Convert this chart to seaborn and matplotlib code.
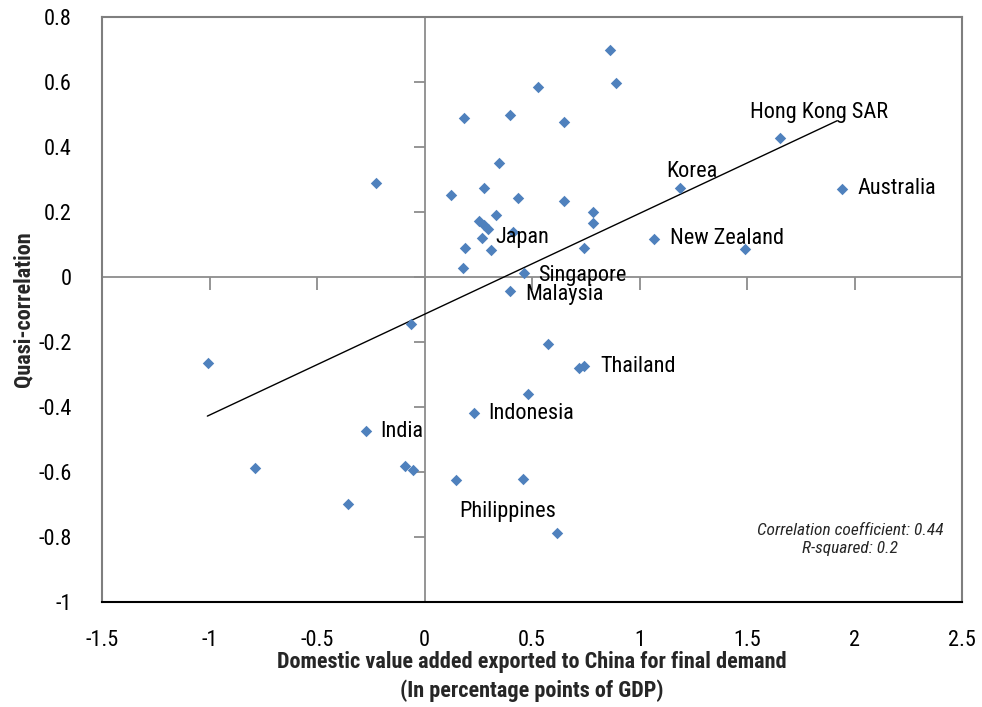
import numpy as np
import pandas as pd
import seaborn as sns
import matplotlib
matplotlib.use("Agg")
import matplotlib.pyplot as plt
from matplotlib import font_manager as fm
from matplotlib.ticker import FixedLocator, FuncFormatter

# ---------------- data ----------------
x_vals = [0.861, 0.889, 0.527, 0.182, 0.399, 0.649, 0.347, -0.224, 0.123, 0.278,
          0.435, 0.649, 0.331, 0.785, 0.782, 0.253, 0.277, 0.295, 0.266, 0.410,
          0.188, 0.311, 0.742, 1.069, 1.491, 1.654, 1.190, 1.942, 0.179, 0.461,
          0.399, -0.064, 0.574, 0.720, 0.743, 0.483, 0.229, -0.271, -0.089, -0.052,
          0.145, 0.460, -0.354, 0.616, -1.007, -0.790]
y_vals = [0.699, 0.596, 0.586, 0.488, 0.499, 0.478, 0.351, 0.289, 0.251, 0.273,
          0.243, 0.234, 0.192, 0.200, 0.165, 0.173, 0.160, 0.148, 0.120, 0.139,
          0.089, 0.082, 0.090, 0.118, 0.086, 0.428, 0.273, 0.272, 0.028, 0.011,
          -0.044, -0.146, -0.207, -0.280, -0.274, -0.359, -0.418, -0.473, -0.582, -0.594,
          -0.624, -0.623, -0.699, -0.788, -0.264, -0.589]
names = ["", "", "", "", "", "", "", "", "", "",
         "", "", "", "", "", "", "", "", "Japan", "",
         "", "", "", "New Zealand", "", "Hong Kong SAR", "Korea", "Australia", "", "Singapore",
         "Malaysia", "", "", "", "Thailand", "", "Indonesia", "India", "", "",
         "", "", "", "Philippines", "", ""]

trend_x = [-1.01, 1.92]
trend_y = [-0.428, 0.481]

x_ticks = [-1.5, -1, -0.5, 0, 0.5, 1, 1.5, 2, 2.5]
y_ticks = [-1, -0.8, -0.6, -0.4, -0.2, 0, 0.2, 0.4, 0.6, 0.8]

x_title = "Domestic value added exported to China for final demand\n(In percentage points of GDP)"
y_title = "Quasi-correlation"
note_text = "Correlation coefficient: 0.44\nR-squared: 0.2"

df = pd.DataFrame({"x": x_vals, "y": y_vals, "name": names})

# ---------------- layout / style ----------------
label_offsets = {  # pixel offsets of label (left, vcenter) from its point
    "Hong Kong SAR": (-30, 25), "Korea": (-14, 17), "Australia": (15, 0),
    "New Zealand": (16, 0), "Japan": (14, 0), "Singapore": (15, -2),
    "Malaysia": (15, -3), "Thailand": (16, 0), "Indonesia": (15, -1),
    "India": (14, -1), "Philippines": (-98, 22),
}

sns.set_theme(style="white")
avail = {f.name for f in fm.fontManager.ttflist}
fam = [f for f in ["Liberation Sans Narrow", "Roboto Condensed", "Liberation Sans", "DejaVu Sans"] if f in avail]
plt.rcParams["font.family"] = fam

fig = plt.figure(figsize=(9.82, 7.07), dpi=100)
ax = fig.add_axes([102 / 982, 1 - 602 / 707, 860 / 982, 585 / 707])

blue = "#4F81BD"
gray = "#8C8C8C"

# zero axes lines
ax.axhline(0, color=gray, lw=1.3, zorder=1)
ax.axvline(0, color=gray, lw=1.3, zorder=1)
# tick marks on the zero lines
ax.plot(x_ticks, np.zeros(len(x_ticks)), ls="none", marker=3, ms=9, mew=1.3, color=gray, zorder=1)
ax.plot(np.zeros(len(y_ticks)), y_ticks, ls="none", marker=0, ms=8, mew=1.3, color=gray, zorder=1)

sns.lineplot(x=trend_x, y=trend_y, color="black", lw=1.0, ax=ax, zorder=2)
sns.scatterplot(data=df, x="x", y="y", marker="D", color=blue, s=34, linewidth=0, ax=ax, zorder=3)

for _, r in df[df["name"] != ""].iterrows():
    dx, dy = label_offsets[r["name"]]
    ax.annotate(r["name"], (r["x"], r["y"]), xytext=(dx, dy), textcoords="offset pixels",
                ha="left", va="center", fontsize=16, color="black", zorder=4)

ax.set_xlim(-1.5, 2.5)
ax.set_ylim(-1, 0.8)
ax.xaxis.set_major_locator(FixedLocator(x_ticks))
ax.yaxis.set_major_locator(FixedLocator(y_ticks))
ax.xaxis.set_major_formatter(FuncFormatter(lambda v, p: f"{v:g}"))
ax.yaxis.set_major_formatter(FuncFormatter(lambda v, p: f"{v:g}"))
ax.tick_params(axis="both", length=0, labelsize=16, colors="black")
ax.tick_params(axis="x", pad=20)
ax.tick_params(axis="y", pad=22)

for side in ["left", "top", "right"]:
    ax.spines[side].set_color("#7F7F7F")
    ax.spines[side].set_linewidth(1.5)
ax.spines["bottom"].set_color("black")
ax.spines["bottom"].set_linewidth(1.5)

ax.set_xlabel(x_title, fontsize=16, fontweight="bold", labelpad=0, linespacing=1.4)
ax.set_ylabel(y_title, fontsize=16, fontweight="bold", labelpad=3)

ax.text(0.870, 0.106, note_text, transform=ax.transAxes, ha="center", va="center",
        fontsize=12.5, style="italic", linespacing=1.25)

fig.savefig("out.png", dpi=100)
